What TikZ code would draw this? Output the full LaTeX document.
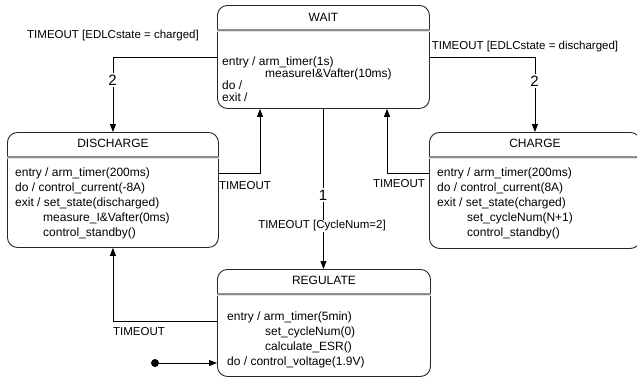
\documentclass[tikz,border=0pt]{standalone}
\usepackage{fontspec}
\setmainfont{Liberation Sans}
\usetikzlibrary{arrows.meta,calc}
\begin{document}
\begin{tikzpicture}[x=1pt,y=-1pt,
 statebox/.style={draw=black!85, line width=0.9pt, rounded corners=10pt, inner sep=0, anchor=north west},
 hdr/.style={draw=black!45, line width=1.2pt},
 hdrb/.style={draw=black!12, line width=1.2pt},
 title/.style={font=\fontsize{12}{14}\selectfont, inner sep=0},
 body/.style={font=\fontsize{12}{15}\selectfont, align=left, inner sep=0, anchor=north west},
 wbody/.style={font=\fontsize{12}{12}\selectfont, align=left, inner sep=0, anchor=north west},
 lbl/.style={font=\fontsize{11.5}{13}\selectfont, inner sep=0},
 num/.style={font=\fontsize{15}{17}\selectfont, fill=white, inner sep=1.5pt},
 arr/.style={draw=black, line width=0.8pt, -{Triangle[length=8pt,width=6pt]}},
 initdot/.style={circle, fill=black, inner sep=0, minimum size=8pt}
]
\useasboundingbox (0,0) rectangle (637,380);

% states
\node[statebox, minimum width=212pt, minimum height=103pt] (wait) at (217,5) {};
\node[statebox, minimum width=211pt, minimum height=115pt] (discharge) at (7,132) {};
\node[statebox, minimum width=211pt, minimum height=116pt] (charge) at (429,132) {};
\node[statebox, minimum width=213pt, minimum height=107pt] (regulate) at (217,269) {};

% header separators
\foreach \s in {wait,discharge,charge,regulate}{
  \draw[hdrb] ($(\s.north west)+(0,26.4)$) -- ($(\s.north east)+(0,26.4)$);
  \draw[hdr] ($(\s.north west)+(0,25)$) -- ($(\s.north east)+(0,25)$);
}

% titles
\node[title] (waitT) at ($(wait.north)+(0,12.5)$) {WAIT};
\node[title] (dischargeT) at ($(discharge.north)+(0,11.5)$) {DISCHARGE};
\node[title] (chargeT) at ($(charge.north)+(0,11.5)$) {CHARGE};
\node[title] (regulateT) at ($(regulate.north)+(0,11)$) {REGULATE};

% bodies
\node[wbody] (waitB) at (222,56.5) {entry / arm\_timer(1s)\\\hspace*{43pt}measureI\&Vafter(10ms)\\do /\\exit /};
\node[body] (dischargeB) at (15,167.5) {entry / arm\_timer(200ms)\\do / control\_current(-8A)\\exit / set\_state(discharged)\\\hspace*{28pt}measure\_I\&Vafter(0ms)\\\hspace*{28pt}control\_standby()};
\node[body] (chargeB) at (437,167.5) {entry / arm\_timer(200ms)\\do / control\_current(8A)\\exit / set\_state(charged)\\\hspace*{30pt}set\_cycleNum(N+1)\\\hspace*{30pt}control\_standby()};
\node[body] (regulateB) at (227,311.5) {entry / arm\_timer(5min)\\\hspace*{38pt}set\_cycleNum(0)\\\hspace*{38pt}calculate\_ESR()\\do / control\_voltage(1.9V)};

% connector bend points
\coordinate (d2w) at (260,173);
\coordinate (c2w) at (387,173);
\coordinate (r2d) at (112,321);

% connectors
\draw[arr] (wait.west) -| (discharge.north);
\draw[arr] (wait.east) -| (charge.north);
\draw[arr] (discharge.east |- d2w) -| (wait.south -| d2w);
\draw[arr] (charge.west |- c2w) -| (wait.south -| c2w);
\draw[arr] (wait.south) -- (wait.south |- regulate.north);
\draw[arr] (regulate.west |- r2d) -| (discharge.south);
\node[initdot] (init) at (155,363) {};
\draw[arr] (init) -- (regulate.west |- init);

% labels
\node[lbl] (l1) at (113,36) {TIMEOUT [EDLCstate = charged]};
\node[lbl] (l2) at (525,47) {TIMEOUT [EDLCstate = discharged]};
\node[lbl] (l3) at (245,186) {TIMEOUT};
\node[lbl] (l4) at (399,184) {TIMEOUT};
\node[lbl, fill=white, inner sep=1pt] (l5) at (322,226) {TIMEOUT [CycleNum=2]};
\node[lbl] (l6) at (139,332) {TIMEOUT};
\node[num] (n1) at (112.5,80) {2};
\node[num] (n2) at (534.5,81) {2};
\node[num] (n3) at (323,195) {1};
\end{tikzpicture}
\end{document}
